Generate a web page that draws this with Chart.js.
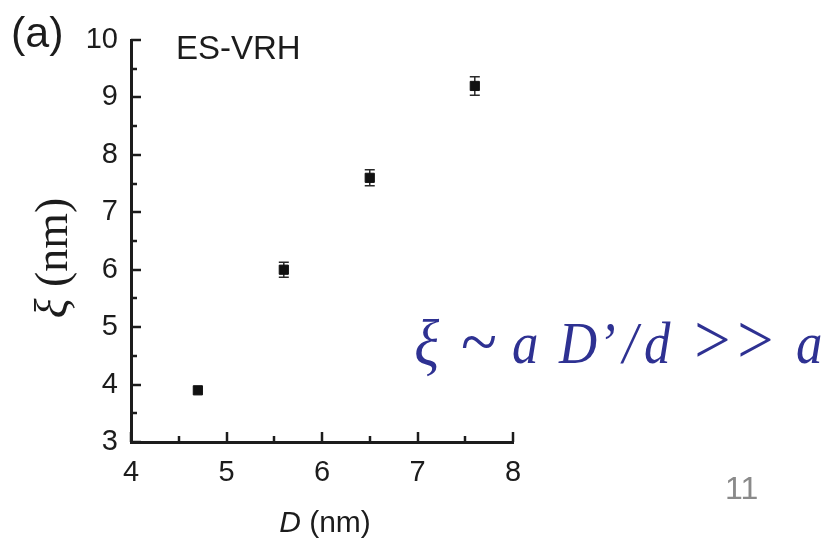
<!DOCTYPE html>
<html><head><meta charset="utf-8">
<script src="https://cdn.jsdelivr.net/npm/chart.js@4.4.0/dist/chart.umd.min.js"></script>
<style>html,body{margin:0;padding:0;background:#fff;}#wrap{width:830px;height:540px;position:relative;}</style>
</head><body><div id="wrap"><canvas id="c" width="830" height="540"></canvas></div>
<script>
// ---- data ----
const diameters = [4.7, 5.6, 6.5, 7.6];          // D (nm)
const xiValues  = [3.9, 6.0, 7.6, 9.2];          // xi (nm)
const xiErrors  = [0.0, 0.13, 0.14, 0.16];       // error bar half-heights
const xTicks = [4, 5, 6, 7, 8];
const yTicks = [3, 4, 5, 6, 7, 8, 9, 10];

const SANS = '"Liberation Sans", Arial, sans-serif';
const SERIF = '"Liberation Serif", "Times New Roman", serif';
const AXIS_COLOR = '#1c1c1c';

function minorOf(ticks){ const m=[]; for(let i=0;i<ticks.length-1;i++) m.push((ticks[i]+ticks[i+1])/2); return m; }

const tickMarks = {
  id:'tickMarks',
  afterDraw(chart){
    const {ctx, scales:{x, y}, chartArea:a} = chart;
    ctx.save(); ctx.strokeStyle = AXIS_COLOR; ctx.lineWidth = 2.5; ctx.lineCap='butt';
    const drawX = (v, len) => { const px = Math.round(x.getPixelForValue(v)); ctx.beginPath(); ctx.moveTo(px, a.bottom); ctx.lineTo(px, a.bottom - len); ctx.stroke(); };
    const drawY = (v, len) => { const py = Math.round(y.getPixelForValue(v)); ctx.beginPath(); ctx.moveTo(a.left, py); ctx.lineTo(a.left + len, py); ctx.stroke(); };
    xTicks.forEach(v => drawX(v, 10)); minorOf(xTicks).forEach(v => drawX(v, 6));
    yTicks.forEach(v => drawY(v, 10)); minorOf(yTicks).forEach(v => drawY(v, 6));
    ctx.restore();
  }
};

const errorBars = {
  id:'errorBars',
  beforeDatasetsDraw(chart){
    const {ctx, scales:{x, y}} = chart;
    ctx.save(); ctx.strokeStyle = '#2a2a2a'; ctx.lineWidth = 1.5;
    diameters.forEach((d, i) => {
      const e = xiErrors[i]; if (!e) return;
      const px = x.getPixelForValue(d);
      const t = y.getPixelForValue(xiValues[i] + e), b = y.getPixelForValue(xiValues[i] - e);
      ctx.beginPath();
      ctx.moveTo(px, t); ctx.lineTo(px, b);
      ctx.moveTo(px - 5, t); ctx.lineTo(px + 5, t);
      ctx.moveTo(px - 5, b); ctx.lineTo(px + 5, b);
      ctx.stroke();
    });
    ctx.restore();
  }
};

function drawInk(ctx, s, inkLeft, baseline, sx){
  ctx.save(); ctx.translate(inkLeft, baseline); ctx.scale(sx, 1);
  const m = ctx.measureText(s); ctx.fillText(s, m.actualBoundingBoxLeft, 0);
  ctx.restore();
}

const texts = {
  id:'texts',
  afterDraw(chart){
    const ctx = chart.ctx;
    ctx.save();
    ctx.textBaseline = 'alphabetic'; ctx.textAlign = 'left';
    ctx.fillStyle = '#1c1c1c';
    ctx.font = '43px ' + SANS; drawInk(ctx, '(a)', 13, 47, 1);
    ctx.font = '33px ' + SANS; drawInk(ctx, 'ES-VRH', 178, 59, 1);
    // x title: italic D + (nm)
    const xa = chart.chartArea; const cx = (xa.left + xa.right) / 2 + 3;
    ctx.font = 'italic 30px ' + SANS; const wD = ctx.measureText('D').width;
    ctx.font = '30px ' + SANS; const wR = ctx.measureText(' (nm)').width;
    let sx = cx - (wD + wR) / 2;
    ctx.font = 'italic 30px ' + SANS; ctx.fillText('D', sx, 532);
    ctx.font = '30px ' + SANS; ctx.fillText(' (nm)', sx + wD, 532);
    // y title rotated
    ctx.save();
    ctx.translate(67, 258); ctx.rotate(-Math.PI/2);
    ctx.font = 'italic 46px ' + SERIF; const wX = ctx.measureText('ξ').width;
    ctx.font = '46px ' + SERIF; const wN = ctx.measureText(' (nm)').width;
    let sy = -(wX + wN) / 2;
    ctx.font = 'italic 46px ' + SERIF; ctx.fillText('ξ', sy, 0);
    ctx.font = '46px ' + SERIF; ctx.fillText(' (nm)', sy + wX, 0);
    ctx.restore();
    // formula
    ctx.fillStyle = '#2E3192';
    const ital = 'italic 60px ' + SERIF, up = '60px ' + SERIF, big = '70px ' + SERIF, xi = 'italic 66px ' + SERIF;
    const toks = [['ξ',416,xi,0.88,365],['~',462,big,0.95,365],['a',513,ital,0.88,363],['D',558,ital,0.88,363],['’',605,ital,0.88,363],['/',620,ital,0.88,363],['d',645,ital,0.88,363],['>',697,big,0.92,363],['>',740,big,0.92,363],['a',797,ital,0.88,363]];
    toks.forEach(([s, px, f, k, bl]) => { ctx.font = f; drawInk(ctx, s, px, bl, k); });
    // page number
    ctx.fillStyle = '#8a8a8a'; ctx.font = '32px ' + SANS; drawInk(ctx, '11', 727, 499, 1);
    ctx.restore();
  }
};

new Chart(document.getElementById('c'), {
  type: 'scatter',
  data: { datasets: [{
    data: diameters.map((d, i) => ({x: d, y: xiValues[i]})),
    pointStyle: 'rect', pointRadius: 6.5, borderWidth: 1,
    backgroundColor: '#111', borderColor: '#111', showLine: false
  }]},
  options: {
    responsive: false, animation: false, devicePixelRatio: 1,
    layout: { padding: { left: 0, right: 317, top: 40, bottom: 0 } },
    plugins: { legend: { display: false }, tooltip: { enabled: false } },
    scales: {
      x: {
        type: 'linear', position: 'bottom', min: 4, max: 8,
        afterBuildTicks: s => { s.ticks = xTicks.map(v => ({value: v})); },
        afterFit: s => { s.height = 98; },
        grid: { display: false },
        border: { display: true, color: AXIS_COLOR, width: 3 },
        ticks: { color: '#1c1c1c', font: { family: SANS, size: 29 }, padding: 6, autoSkip: false, maxRotation: 0 }
      },
      y: {
        type: 'linear', position: 'left', min: 3, max: 10,
        afterBuildTicks: s => { s.ticks = yTicks.map(v => ({value: v})); },
        afterFit: s => { s.width = 131; },
        grid: { display: false },
        border: { display: true, color: AXIS_COLOR, width: 3 },
        ticks: { color: '#1c1c1c', font: { family: SANS, size: 29 }, padding: 5 }
      }
    }
  },
  plugins: [errorBars, tickMarks, texts]
});
</script></body></html>
